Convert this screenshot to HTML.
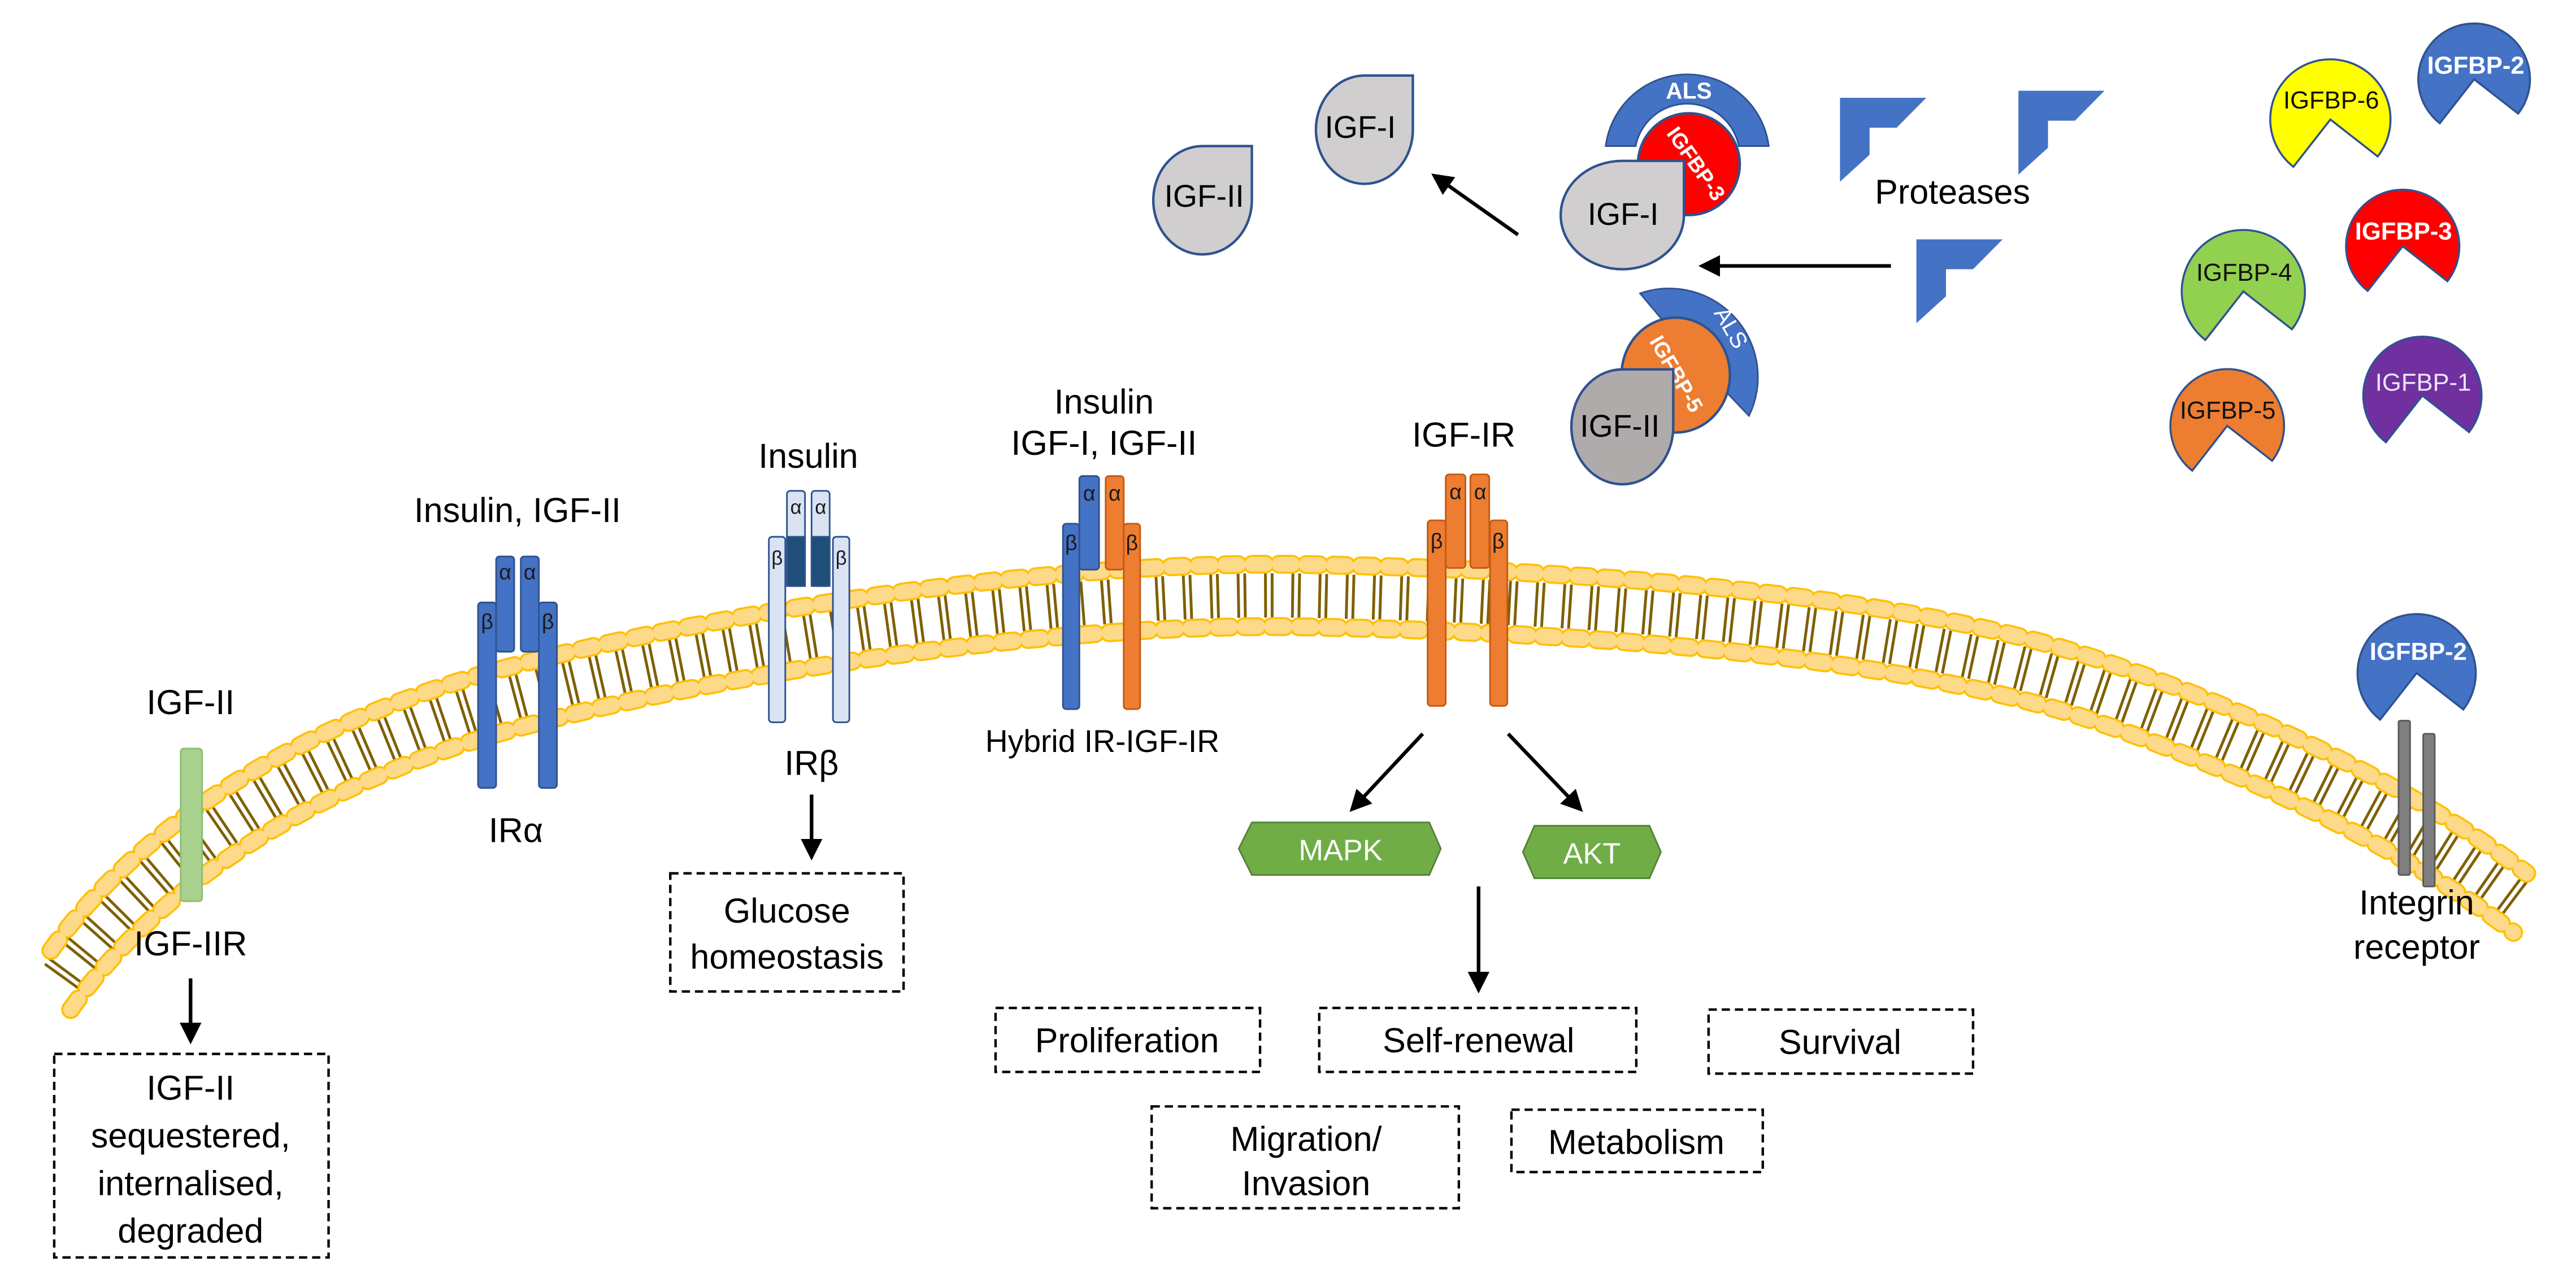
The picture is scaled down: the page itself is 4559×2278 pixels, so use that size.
<!DOCTYPE html>
<html><head><meta charset="utf-8"><style>
html,body{margin:0;padding:0;background:#fff;}
svg{display:block;}
text{font-family:"Liberation Sans",sans-serif;}
</style></head><body>
<svg width="4559" height="2278" viewBox="0 0 1568 784" preserveAspectRatio="none" xmlns="http://www.w3.org/2000/svg">
<defs>
<marker id="ah" markerWidth="6" markerHeight="6" refX="5" refY="3" orient="auto" markerUnits="strokeWidth">
<path d="M0,0 L6,3 L0,6 Z" fill="#000"/></marker>
</defs>

<!-- membrane -->
<path d="M37,597 C86,528 175,463.5 303,427.5 C422,394.5 640,359 800,363 C950,366 1149,379 1270,418.5 C1367,450.5 1466,498 1534,550" fill="none" stroke="#7F6000" stroke-width="27" stroke-dasharray="1.7 2.3 1.7 10.8" stroke-dashoffset="-1.4"/>
<g fill="none" stroke-linecap="round" stroke-dasharray="8 8.5">
<path d="M31,579 C80,510 170,445 300,409 C420,376 640,340 800,344 C950,347 1150,360 1272,400 C1370,432 1470,480 1538,532" stroke="#FFC000" stroke-width="11.5"/>
<path d="M31,579 C80,510 170,445 300,409 C420,376 640,340 800,344 C950,347 1150,360 1272,400 C1370,432 1470,480 1538,532" stroke="#FDD98A" stroke-width="9"/>
<path d="M43,615 C92,546 180,482 306,446 C424,413 640,378 800,382 C950,385 1148,398 1268,437 C1364,469 1462,516 1530,568" stroke="#FFC000" stroke-width="11.5"/>
<path d="M43,615 C92,546 180,482 306,446 C424,413 640,378 800,382 C950,385 1148,398 1268,437 C1364,469 1462,516 1530,568" stroke="#FDD98A" stroke-width="9"/>
</g>

<!-- IGF-IIR -->
<text x="116" y="435" font-size="21" text-anchor="middle">IGF-II</text>
<rect x="110" y="456" width="13" height="93" rx="2" fill="#A9D18E" stroke="#8FBC73" stroke-width="1"/>
<text x="116" y="582" font-size="21" text-anchor="middle">IGF-IIR</text>
<line x1="116" y1="596" x2="116" y2="634" stroke="#000" stroke-width="2.2" marker-end="url(#ah)"/>
<rect x="33" y="642" width="167" height="124" fill="none" stroke="#000" stroke-width="1.5" stroke-dasharray="5,3"/>
<text font-size="21" text-anchor="middle"><tspan x="116" y="670">IGF-II</tspan><tspan x="116" y="699">sequestered,</tspan><tspan x="116" y="728">internalised,</tspan><tspan x="116" y="757">degraded</tspan></text>

<!-- IR alpha -->
<text x="315" y="318" font-size="21" text-anchor="middle">Insulin, IGF-II</text>
<g fill="#4472C4" stroke="#2F528F" stroke-width="1">
<rect x="291" y="367" width="11" height="113" rx="2"/>
<rect x="328" y="367" width="11" height="113" rx="2"/>
<rect x="302" y="339" width="11" height="58" rx="2"/>
<rect x="317" y="339" width="11" height="58" rx="2"/>
</g>
<g font-size="13" fill="#1a1a1a" text-anchor="middle">
<text x="296.5" y="383">β</text><text x="333.5" y="383">β</text>
<text x="307.5" y="353">α</text><text x="322.5" y="353">α</text></g>
<text x="314" y="513" font-size="21" text-anchor="middle">IRα</text>

<!-- IR beta -->
<text x="492" y="285" font-size="21" text-anchor="middle">Insulin</text>
<g stroke="#2F528F" stroke-width="1">
<rect x="468" y="327" width="10" height="113" rx="2" fill="#DAE3F3"/>
<rect x="507" y="327" width="10" height="113" rx="2" fill="#DAE3F3"/>
<rect x="479" y="299" width="11" height="58" rx="2" fill="#DAE3F3"/>
<rect x="494" y="299" width="11" height="58" rx="2" fill="#DAE3F3"/>
<rect x="479" y="327" width="11" height="30" fill="#1F4E79"/>
<rect x="494" y="327" width="11" height="30" fill="#1F4E79"/>
</g>
<g font-size="12" fill="#1a1a1a" text-anchor="middle">
<text x="473" y="344">β</text><text x="512" y="344">β</text>
<text x="484.5" y="313">α</text><text x="499.5" y="313">α</text></g>
<text x="494" y="472" font-size="21" text-anchor="middle">IRβ</text>
<line x1="494" y1="484" x2="494" y2="522" stroke="#000" stroke-width="2.2" marker-end="url(#ah)"/>
<rect x="408" y="532" width="142" height="72" fill="none" stroke="#000" stroke-width="1.5" stroke-dasharray="5,3"/>
<text font-size="21" text-anchor="middle"><tspan x="479" y="562">Glucose</tspan><tspan x="479" y="590">homeostasis</tspan></text>

<!-- Hybrid -->
<text font-size="21" text-anchor="middle"><tspan x="672" y="252">Insulin</tspan><tspan x="672" y="277">IGF-I, IGF-II</tspan></text>
<g stroke-width="1">
<rect x="647" y="319" width="10" height="113" rx="2" fill="#4472C4" stroke="#2F528F"/>
<rect x="657" y="290" width="12" height="57" rx="2" fill="#4472C4" stroke="#2F528F"/>
<rect x="673" y="290" width="11" height="57" rx="2" fill="#ED7D31" stroke="#C55A11"/>
<rect x="684" y="319" width="10" height="113" rx="2" fill="#ED7D31" stroke="#C55A11"/>
</g>
<g font-size="13" fill="#1a1a1a" text-anchor="middle">
<text x="652" y="335">β</text><text x="689" y="335">β</text>
<text x="663" y="305">α</text><text x="678.5" y="305">α</text></g>
<text x="671" y="458" font-size="19" text-anchor="middle">Hybrid IR-IGF-IR</text>

<!-- IGF-IR -->
<text x="891" y="272" font-size="21" text-anchor="middle">IGF-IR</text>
<g fill="#ED7D31" stroke="#C55A11" stroke-width="1">
<rect x="869" y="317" width="11" height="113" rx="2"/>
<rect x="907" y="317" width="10.5" height="113" rx="2"/>
<rect x="880" y="289" width="12" height="57" rx="2"/>
<rect x="895" y="289" width="11.5" height="57" rx="2"/>
</g>
<g font-size="13" fill="#1a1a1a" text-anchor="middle">
<text x="874.5" y="334">β</text><text x="912" y="334">β</text>
<text x="886" y="304">α</text><text x="901" y="304">α</text></g>
<line x1="866" y1="447" x2="823" y2="493" stroke="#000" stroke-width="2.2" marker-end="url(#ah)"/>
<line x1="918" y1="447" x2="962" y2="493" stroke="#000" stroke-width="2.2" marker-end="url(#ah)"/>
<polygon points="762,501 870,501 877,517 870,533 762,533 754,517" fill="#70AD47" stroke="#548235" stroke-width="1"/>
<text x="816" y="524" font-size="18" fill="#fff" text-anchor="middle">MAPK</text>
<polygon points="934,503 1004,503 1011,519 1004,535 934,535 927,519" fill="#70AD47" stroke="#548235" stroke-width="1"/>
<text x="969" y="526" font-size="18" fill="#fff" text-anchor="middle">AKT</text>
<line x1="900" y1="540" x2="900" y2="603" stroke="#000" stroke-width="2.2" marker-end="url(#ah)"/>

<g fill="none" stroke="#000" stroke-width="1.5" stroke-dasharray="5,3">
<rect x="606" y="614" width="161" height="39"/>
<rect x="803" y="614" width="193" height="39"/>
<rect x="1040" y="615" width="161" height="39"/>
<rect x="701" y="674" width="187" height="62"/>
<rect x="920" y="676" width="153" height="38"/>
</g>
<g font-size="21" text-anchor="middle">
<text x="686" y="641">Proliferation</text>
<text x="900" y="641">Self-renewal</text>
<text x="1120" y="642">Survival</text>
<text x="795" y="701">Migration/</text><text x="795" y="728">Invasion</text>
<text x="996" y="703">Metabolism</text>
</g>

<!-- Integrin -->
<g fill="#7F7F7F" stroke="#595959" stroke-width="1">
<rect x="1460" y="439" width="7" height="94" rx="1"/>
<rect x="1475" y="447" width="7" height="93" rx="1"/>
</g>
<path d="M1471,410 L1499.4,432.2 A36,36 0 1 0 1448.8,438.4 Z" fill="#4472C4" stroke="#2F528F" stroke-width="1.2"/>
<text x="1472" y="402" font-size="15" font-weight="bold" fill="#fff" text-anchor="middle">IGFBP-2</text>
<text font-size="21" text-anchor="middle"><tspan x="1471" y="557">Integrin</tspan><tspan x="1471" y="584">receptor</tspan></text>

<!-- free IGFs -->
<path d="M733,89 L762,89 L762,122 A30,33 0 1 1 733,89 Z" fill="#D0CECE" stroke="#2F528F" stroke-width="1.5"/>
<text x="733" y="126" font-size="19" text-anchor="middle">IGF-II</text>
<path d="M831,46 L860,46 L860,79 A29.5,33 0 1 1 831,46 Z" fill="#D0CECE" stroke="#2F528F" stroke-width="1.5"/>
<text x="828" y="84" font-size="19" text-anchor="middle">IGF-I</text>
<line x1="924" y1="143" x2="873" y2="107" stroke="#000" stroke-width="2.2" marker-end="url(#ah)"/>

<!-- IGF-I complex -->
<path d="M977.4,89 A50,50 0 0 1 1076.6,89 L1058.4,89 A32,32 0 0 0 995.6,89 Z" fill="#4472C4" stroke="#2F528F" stroke-width="1"/>
<text x="1028" y="60" font-size="14" font-weight="bold" fill="#fff" text-anchor="middle">ALS</text>
<circle cx="1028" cy="100" r="31" fill="#FF0000" stroke="#2F528F" stroke-width="1.5"/>
<text x="1032" y="104" font-size="13" font-weight="bold" fill="#fff" text-anchor="middle" transform="rotate(55 1032 100)">IGFBP-3</text>
<path d="M987.5,98 L1025,98 L1025,131 A37.5,33 0 1 1 987.5,98 Z" fill="#D0CECE" stroke="#2F528F" stroke-width="1.5"/>
<text x="988" y="137" font-size="19" text-anchor="middle">IGF-I</text>
<line x1="1151" y1="162" x2="1036" y2="162" stroke="#000" stroke-width="2.2" marker-end="url(#ah)"/>

<!-- IGF-II complex -->
<path d="M998.3,178.7 A54,54 0 0 1 1064.6,253.3 L1050,238 A33,33 0 0 0 1012,195 Z" fill="#4472C4" stroke="#2F528F" stroke-width="1"/>
<text x="1053" y="204" font-size="14" fill="#fff" text-anchor="middle" transform="rotate(60 1053 200)">ALS</text>
<ellipse cx="1020" cy="228.5" rx="33" ry="35" fill="#ED7D31" stroke="#2F528F" stroke-width="1.5"/>
<text x="1020" y="232" font-size="13" font-weight="bold" fill="#fff" text-anchor="middle" transform="rotate(60 1020 228)">IGFBP-5</text>
<path d="M987,225 L1018.5,225 L1018.5,260 A31,35 0 1 1 987,225 Z" fill="#AFABAB" stroke="#2F528F" stroke-width="1.5"/>
<text x="986" y="266" font-size="19" text-anchor="middle">IGF-II</text>

<!-- proteases -->
<g fill="#4472C4">
<path d="M1120,59.6 L1172.5,59.6 L1154.5,77.8 L1138,77.8 L1138,94.3 L1120,110.7 Z"/>
<path d="M1228.6,55.3 L1281,55.3 L1263,73.5 L1246.6,73.5 L1246.6,90 L1228.6,106.4 Z"/>
<path d="M1166.5,145.8 L1219,145.8 L1201,164 L1184.5,164 L1184.5,180.5 L1166.5,196.9 Z"/>
</g>
<text x="1188.5" y="124" font-size="21" text-anchor="middle">Proteases</text>

<!-- free IGFBPs -->
<g stroke="#2F528F" stroke-width="1.2">
<path d="M1418.5,72.8 L1447.3,95.3 A36.6,36.6 0 1 0 1396,101.6 Z" fill="#FFFF00"/>
<path d="M1506,48.3 L1532.8,69.2 A34,34 0 1 0 1485.1,75.1 Z" fill="#4472C4"/>
<path d="M1462.5,150 L1489.7,171.3 A34.5,34.5 0 1 0 1441.2,177.2 Z" fill="#FF0000"/>
<path d="M1365.5,177.5 L1395.1,200.6 A37.5,37.5 0 1 0 1342.4,207.1 Z" fill="#92D050"/>
<path d="M1355.7,259.4 L1383,280.7 A34.6,34.6 0 1 0 1334.4,286.7 Z" fill="#ED7D31"/>
<path d="M1474.5,241 L1502.9,263.2 A36,36 0 1 0 1452.3,269.4 Z" fill="#7030A0"/>
</g>
<g font-size="15" text-anchor="middle">
<text x="1419" y="66" fill="#111">IGFBP-6</text>
<text x="1507" y="45" fill="#fff" font-weight="bold">IGFBP-2</text>
<text x="1463" y="146" fill="#fff" font-weight="bold">IGFBP-3</text>
<text x="1366" y="171" fill="#111">IGFBP-4</text>
<text x="1356" y="255" fill="#111">IGFBP-5</text>
<text x="1475" y="238" fill="#EDE3F5">IGFBP-1</text>
</g>
</svg>
</body></html>
